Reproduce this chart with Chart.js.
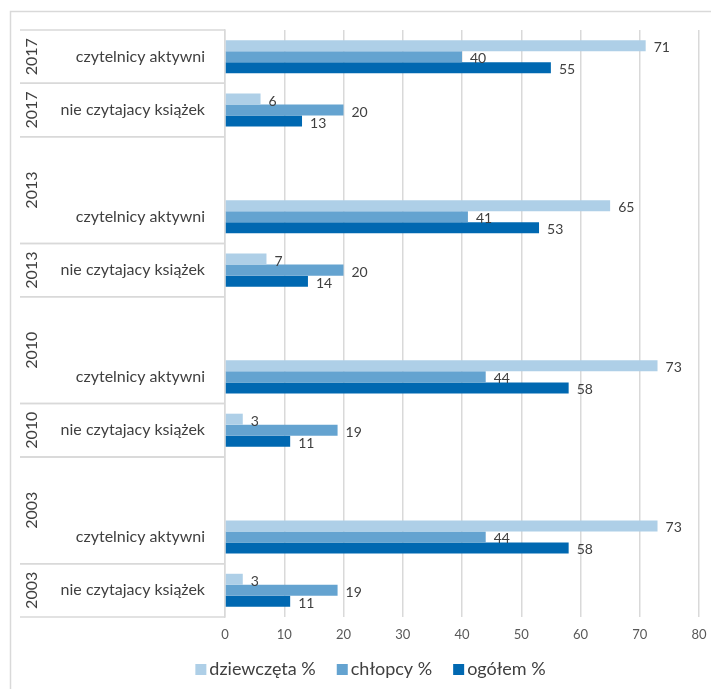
<!DOCTYPE html>
<html lang="pl">
<head>
    <meta charset="UTF-8">
    <title>Czytelnictwo</title>
    <script src="https://cdn.jsdelivr.net/npm/chart.js"></script>
    <style>
        html, body {
            margin: 0;
            padding: 0;
            background: #ffffff;
        }
        #wrap {
            width: 711px;
            height: 689px;
        }
    </style>
</head>
<body>

<div id="wrap"><canvas id="readersChart"></canvas></div>

<script>
    // categories (empty string = spacer row), top to bottom
    const categories = [
        'czytelnicy aktywni', 'nie czytajacy książek', '',
        'czytelnicy aktywni', 'nie czytajacy książek', '',
        'czytelnicy aktywni', 'nie czytajacy książek', '',
        'czytelnicy aktywni', 'nie czytajacy książek'
    ];
    // outer year labels: [year, first row, last row]
    const yearGroups = [
        ['2017', 0, 0], ['2017', 1, 1],
        ['2013', 2, 3], ['2013', 4, 4],
        ['2010', 5, 6], ['2010', 7, 7],
        ['2003', 8, 9], ['2003', 10, 10]
    ];
    const dziewczeta = [71, 6, null, 65, 7, null, 73, 3, null, 73, 3];
    const chlopcy = [40, 20, null, 41, 20, null, 44, 19, null, 44, 19];
    const ogolem = [55, 13, null, 53, 14, null, 58, 11, null, 58, 11];
    const xTicks = [0, 10, 20, 30, 40, 50, 60, 70, 80];

    const FONT = 'Lato, "Open Sans", sans-serif';
    const TEXT = '#404040';
    const GRID = '#d9d9d9';

    // outer frame, year labels, separators in the label area
    const framePlugin = {
        id: 'frame',
        beforeDraw(chart) {
            const c = chart.ctx;
            c.save();
            c.strokeStyle = GRID;
            c.lineWidth = 1.5;
            c.beginPath();
            c.moveTo(10.5, chart.height);
            c.lineTo(10.5, 11.5);
            c.lineTo(chart.width, 11.5);
            c.stroke();
            c.restore();
        },
        afterDraw(chart) {
            const y = chart.scales.y;
            const c = chart.ctx;
            const left = chart.chartArea.left;
            const half = (y.getPixelForValue(1) - y.getPixelForValue(0)) / 2;
            c.save();
            c.strokeStyle = GRID;
            c.lineWidth = 1.5;
            c.font = '16px ' + FONT;
            c.fillStyle = TEXT;
            c.textAlign = 'center';
            c.textBaseline = 'middle';
            yearGroups.forEach(([year, a, b]) => {
                const top = y.getPixelForValue(a) - half;
                const bot = y.getPixelForValue(b) + half;
                c.beginPath();
                c.moveTo(20, top);
                c.lineTo(left, top);
                c.moveTo(20, bot);
                c.lineTo(left, bot);
                c.stroke();
                c.save();
                c.translate(32, (top + bot) / 2);
                c.rotate(-Math.PI / 2);
                c.fillText(year, 0, 0);
                c.restore();
            });
            c.restore();
        }
    };

    // value labels to the right of each bar
    const valueLabels = {
        id: 'valueLabels',
        afterDatasetsDraw(chart) {
            const c = chart.ctx;
            c.save();
            c.font = '14px ' + FONT;
            c.fillStyle = TEXT;
            c.textAlign = 'left';
            c.textBaseline = 'middle';
            chart.data.datasets.forEach((ds, i) => {
                chart.getDatasetMeta(i).data.forEach((el, j) => {
                    const v = ds.data[j];
                    if (v === null) return;
                    c.fillText(String(v), el.x + 8, el.y + 2);
                });
            });
            c.restore();
        }
    };

    // legend below the axis, Excel-like spacing
    const bottomLegend = {
        id: 'bottomLegend',
        afterDraw(chart) {
            const c = chart.ctx;
            const box = 11, gap = 3, spacing = 21;
            c.save();
            c.font = '18px ' + FONT;
            c.textBaseline = 'middle';
            c.textAlign = 'left';
            const items = chart.data.datasets.map(ds => ({
                text: ds.label,
                color: ds.backgroundColor,
                w: box + gap + c.measureText(ds.label).width
            }));
            const total = items.reduce((s, it) => s + it.w, 0) + spacing * (items.length - 1);
            let x = chart.width / 2 + 15 - total / 2;
            const yMid = chart.height - 19.5;
            items.forEach(it => {
                c.fillStyle = it.color;
                c.fillRect(x, yMid - box / 2, box, box);
                c.fillStyle = TEXT;
                c.fillText(it.text, x + box + gap, yMid);
                x += it.w + spacing;
            });
            c.restore();
        }
    };

    const ctx = document.getElementById('readersChart').getContext('2d');
    new Chart(ctx, {
        type: 'bar',
        data: {
            labels: categories,
            datasets: [
                { label: 'dziewczęta %', data: dziewczeta, backgroundColor: '#aecfe7' },
                { label: 'chłopcy %', data: chlopcy, backgroundColor: '#64a3d0' },
                { label: 'ogółem %', data: ogolem, backgroundColor: '#0068b1' }
            ]
        },
        options: {
            indexAxis: 'y',
            responsive: true,
            maintainAspectRatio: false,
            animation: false,
            categoryPercentage: 0.62,
            barPercentage: 1.0,
            layout: {
                padding: { top: 30, right: 12, left: 0, bottom: 38 }
            },
            plugins: {
                legend: { display: false },
                tooltip: { enabled: false }
            },
            scales: {
                x: {
                    min: 0,
                    max: 80,
                    afterBuildTicks(scale) {
                        scale.ticks = xTicks.map(v => ({ value: v }));
                    },
                    grid: { color: GRID, lineWidth: 1.5, drawTicks: false },
                    border: { display: false },
                    ticks: {
                        padding: 10,
                        color: '#595959',
                        font: { family: FONT, size: 13 }
                    },
                    afterFit(scale) {
                        scale.height = 34;
                        scale.paddingLeft = 0;
                        scale.paddingRight = 0;
                    }
                },
                y: {
                    grid: { display: false, drawTicks: false },
                    border: { display: true, color: GRID, width: 1.5 },
                    ticks: {
                        padding: 20,
                        color: TEXT,
                        font: { family: FONT, size: 16 }
                    },
                    afterFit(scale) { scale.width = 225; }
                }
            }
        },
        plugins: [framePlugin, valueLabels, bottomLegend]
    });
</script>

</body>
</html>
